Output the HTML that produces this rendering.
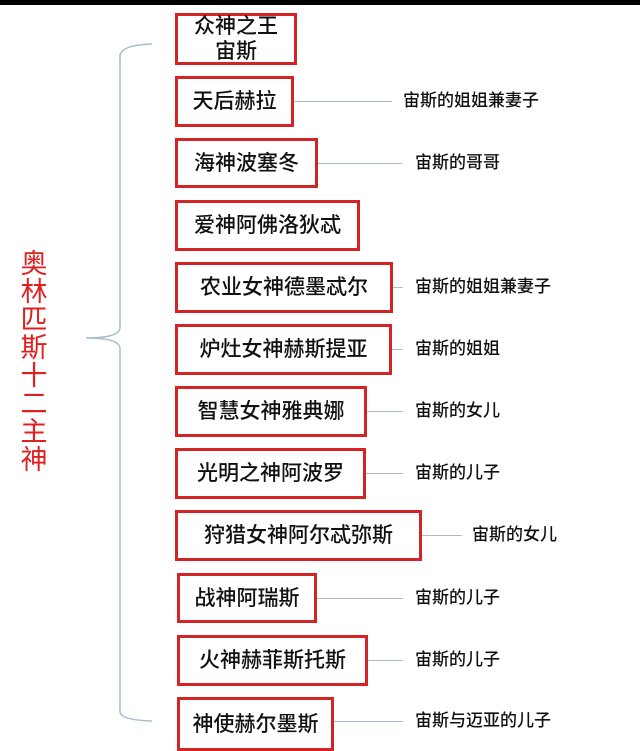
<!DOCTYPE html>
<html><head><meta charset="utf-8"><style>
body{margin:0;width:640px;height:748px;background:#fff;position:relative;overflow:hidden;font-family:"Liberation Sans","Noto Sans CJK SC",sans-serif}
.b{position:absolute;box-sizing:border-box;border:3px solid #d52424;display:flex;align-items:center;justify-content:center;font-size:21px;font-weight:500;color:#111;line-height:25px;text-align:center;background:#fff}
.l{position:absolute;font-size:17px;font-weight:500;color:#111;line-height:20px}
.h{position:absolute;height:1px;background:#a9bdd0}
</style></head><body>
<div style="position:absolute;left:0;top:0;width:640px;height:5px;background:#000"></div>
<svg width="640" height="748" style="position:absolute;left:0;top:0">
<path d="M152 44 Q122 45 120 55 L120 328 Q119 338 86 338 Q119 338 120 348 L120 712 Q121 720 152 721" fill="none" stroke="#a9bdd0" stroke-width="1.5"/>
</svg>
<div style="position:absolute;left:19px;top:250px;width:30px;font-size:27px;line-height:28px;color:#e02020;text-align:center">奥林匹斯十二主神</div>
<div class="b" style="left:175px;top:13px;width:122px;height:52px">众神之王<br>宙斯</div>
<div class="b" style="left:175px;top:76px;width:119px;height:51px">天后赫拉</div>
<div class="h" style="left:294px;top:101px;width:98px"></div><div class="l" style="left:403px;top:91px">宙斯的姐姐兼妻子</div>
<div class="b" style="left:175px;top:138px;width:143px;height:50px">海神波塞冬</div>
<div class="h" style="left:318px;top:163px;width:84px"></div><div class="l" style="left:415px;top:153px">宙斯的哥哥</div>
<div class="b" style="left:175px;top:200px;width:185px;height:51px">爱神阿佛洛狄忒</div>
<div class="b" style="left:175px;top:262px;width:218px;height:51px">农业女神德墨忒尔</div>
<div class="h" style="left:393px;top:287px;width:10px"></div><div class="l" style="left:415px;top:277px">宙斯的姐姐兼妻子</div>
<div class="b" style="left:175px;top:324px;width:217px;height:51px">炉灶女神赫斯提亚</div>
<div class="h" style="left:392px;top:349px;width:11px"></div><div class="l" style="left:415px;top:339px">宙斯的姐姐</div>
<div class="b" style="left:175px;top:386px;width:192px;height:51px">智慧女神雅典娜</div>
<div class="h" style="left:367px;top:411px;width:36px"></div><div class="l" style="left:415px;top:401px">宙斯的女儿</div>
<div class="b" style="left:175px;top:448px;width:191px;height:51px">光明之神阿波罗</div>
<div class="h" style="left:366px;top:473px;width:37px"></div><div class="l" style="left:415px;top:463px">宙斯的儿子</div>
<div class="b" style="left:175px;top:510px;width:247px;height:51px">狩猎女神阿尔忒弥斯</div>
<div class="h" style="left:422px;top:535px;width:40px"></div><div class="l" style="left:472px;top:525px">宙斯的女儿</div>
<div class="b" style="left:177px;top:573px;width:140px;height:50px">战神阿瑞斯</div>
<div class="h" style="left:317px;top:598px;width:86px"></div><div class="l" style="left:415px;top:588px">宙斯的儿子</div>
<div class="b" style="left:177px;top:635px;width:191px;height:51px">火神赫菲斯托斯</div>
<div class="h" style="left:368px;top:660px;width:35px"></div><div class="l" style="left:415px;top:650px">宙斯的儿子</div>
<div class="b" style="left:177px;top:697px;width:157px;height:54px">神使赫尔墨斯</div>
<div class="h" style="left:334px;top:721px;width:69px"></div><div class="l" style="left:415px;top:711px">宙斯与迈亚的儿子</div>
</body></html>
